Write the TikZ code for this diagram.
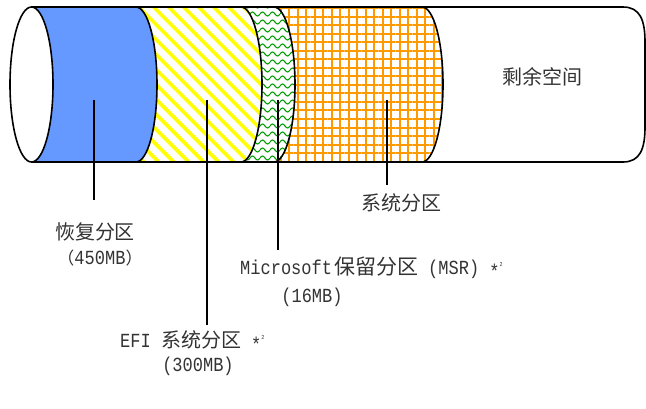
\documentclass[tikz,border=0pt]{standalone}
\usepackage{fontspec}
\setmainfont{Liberation Mono}[FakeStretch=0.85]
\newfontfamily\cjk{Noto Sans CJK SC}
\usetikzlibrary{patterns,patterns.meta}
\definecolor{blueF}{RGB}{102,153,255}
\definecolor{orangeF}{RGB}{255,153,0}
\definecolor{greenF}{RGB}{0,153,0}
\definecolor{yellowF}{RGB}{255,255,0}
\tikzdeclarepattern{
  name=wavy, type=uncolored,
  bounding box={(0pt,-1pt) and (10pt,5pt)},
  tile size={(10pt,8pt)},
  code={\draw[line width=1.1pt] (0pt,2pt) sin (2.5pt,4pt) cos (5pt,2pt) sin (7.5pt,0pt) cos (10pt,2pt);}
}
\newcommand{\starnote}{\raisebox{-4pt}{*}\raisebox{8pt}{\fontsize{6}{6}\selectfont 2}}
\begin{document}
\begin{tikzpicture}[x=1pt,y=-1pt,
  outline/.style={line width=1.6pt, line join=round},
  leader/.style={line width=1.8pt},
  lbl/.style={inner sep=0pt, text=black!80, font=\fontsize{20}{22}\selectfont},
  cjkl/.style={inner sep=0pt, text=black!80, font=\cjk\fontsize{20}{24}\selectfont}]
\useasboundingbox (0,0) rectangle (646,408);
% sections
\fill[blueF] (31.5,7) arc[start angle=90,end angle=-90,x radius=21.5pt,y radius=77.5pt]
  -- (136,162) arc[start angle=-90,end angle=90,x radius=21pt,y radius=77.5pt] -- cycle;
\fill[pattern={Lines[angle=-45,distance=10.6pt,line width=3.6pt]}, pattern color=yellowF]
  (136,7) arc[start angle=90,end angle=-90,x radius=21pt,y radius=77.5pt]
  -- (241,162) arc[start angle=-90,end angle=90,x radius=21pt,y radius=77.5pt] -- cycle;
\fill[pattern=wavy, pattern color=greenF]
  (241,7) arc[start angle=90,end angle=-90,x radius=21pt,y radius=77.5pt]
  -- (274,162) arc[start angle=-90,end angle=90,x radius=21pt,y radius=77.5pt] -- cycle;
\fill[pattern={Hatch[angle=0,distance=8.5pt,line width=2pt]}, pattern color=orangeF]
  (274,7) arc[start angle=90,end angle=-90,x radius=21pt,y radius=77.5pt]
  -- (422,162) arc[start angle=-90,end angle=90,x radius=21pt,y radius=77.5pt] -- cycle;
% boundaries
\foreach \c in {136,241,274,422}
  \draw[outline] (\c,7) arc[start angle=90,end angle=-90,x radius=21pt,y radius=77.5pt];
\draw[outline] (31.5,7) -- (623,7) .. controls (640,7) and (645,20) .. (645,42)
  -- (645,127) .. controls (645,149) and (640,162) .. (623,162) -- (31.5,162);
\draw[outline, fill=white] (31.5,84.5) ellipse[x radius=21.5pt, y radius=77.5pt];
% leader ends
\coordinate (bt) at (94,100);  \coordinate (bb) at (94,200);
\coordinate (yt) at (207,100); \coordinate (yb) at (207,325);
\coordinate (gt) at (278,100); \coordinate (gb) at (278,250);
\coordinate (ot) at (387,100); \coordinate (ob) at (387,185);
\draw[leader] (bt) -- (bb);
\draw[leader] (yt) -- (yb);
\draw[leader] (gt) -- (gb);
\draw[leader] (ot) -- (ob);
% labels
\node[cjkl] (free) at (542,77) {剩余空间};
\node[cjkl] (rec) at (95,232) {恢复分区};
\node[lbl] (recsz) at (100,258) {{\cjk\fontsize{17}{20}\selectfont （}450MB{\cjk\fontsize{17}{20}\selectfont ）}};
\node[lbl, anchor=west] (msr) at (240,268) {Microsoft\hspace{2pt}{\cjk\fontsize{21}{24}\selectfont 保留分区} (MSR) \starnote};
\node[lbl] (msrsz) at (312,297) {(16MB)};
\node[lbl, anchor=west] (efi) at (120,341) {EFI {\cjk\fontsize{20}{24}\selectfont 系统分区} \starnote};
\node[lbl] (efisz) at (198,366) {(300MB)};
\node[cjkl] (sys) at (401,203) {系统分区};
\end{tikzpicture}
\end{document}
